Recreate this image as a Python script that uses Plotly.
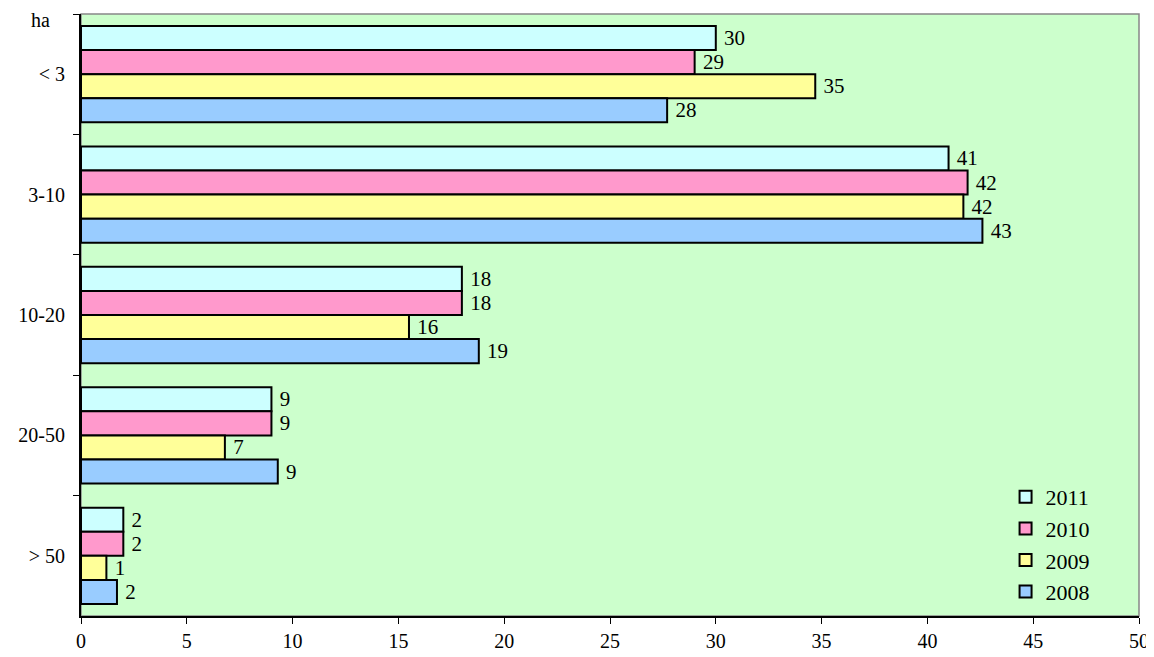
import plotly.graph_objects as go

categories = ["< 3", "3-10", "10-20", "20-50", "> 50"]
years = ["2011", "2010", "2009", "2008"]
values_2011 = [30.0, 41.0, 18.0, 9.0, 2.0]
values_2010 = [29.0, 41.9, 18.0, 9.0, 2.0]
values_2009 = [34.7, 41.7, 15.5, 6.8, 1.2]
values_2008 = [27.7, 42.6, 18.8, 9.3, 1.7]
series = [values_2011, values_2010, values_2009, values_2008]
colors = ["#CCFFFF", "#FF99CC", "#FFFF99", "#99CCFF"]
x_ticks = [0, 5, 10, 15, 20, 25, 30, 35, 40, 45, 50]

FONT = "Liberation Serif"

fig = go.Figure()
for name, vals, col in zip(years, series, colors):
    fig.add_trace(go.Bar(
        y=categories, x=vals, name=name, orientation="h",
        marker=dict(color=col, line=dict(color="black", width=2)),
        texttemplate=" %{x:.0f}", textposition="outside",
        textfont=dict(family=FONT, size=21, color="black"),
        cliponaxis=False,
    ))

# page body has an 8px default margin; compensate so the plot area lands
# at the reference position
fig.update_layout(
    width=1146, height=649,
    margin=dict(l=73, r=15, t=6, b=41, autoexpand=False),
    paper_bgcolor="white", plot_bgcolor="#CCFFCC",
    barmode="group", bargap=0.2, bargroupgap=0,
    font=dict(family=FONT, size=20, color="black"),
    showlegend=True,
    legend=dict(x=0.958, y=0.005, xanchor="right", yanchor="bottom",
                bgcolor="rgba(0,0,0,0)", font=dict(family=FONT, size=22),
                traceorder="normal", itemwidth=30, tracegroupgap=0),
    xaxis=dict(range=[0, 50], tickvals=x_ticks, showgrid=False, zeroline=False,
               showline=True, linecolor="black", linewidth=2, automargin=False,
               ticks="outside", ticklen=6, tickcolor="black", tickwidth=1,
               tickfont=dict(family=FONT, size=20)),
    yaxis=dict(type="category", categoryorder="array", categoryarray=categories,
               autorange="reversed", showgrid=False, zeroline=False,
               showline=True, linecolor="black", linewidth=2, automargin=False,
               ticks="outside", ticklen=6, tickcolor="black", tickwidth=1,
               tickson="boundaries",
               tickfont=dict(family=FONT, size=20), ticksuffix="  "),
    shapes=[dict(type="rect", xref="paper", yref="paper", x0=0, x1=1, y0=0, y1=1,
                 line=dict(color="#888888", width=1.5), layer="below")],
    annotations=[dict(text="ha", xref="paper", yref="paper", x=-0.038, y=0.99,
                      xanchor="center", yanchor="middle", showarrow=False,
                      font=dict(family=FONT, size=20))],
)

fig.write_html("out.html")
